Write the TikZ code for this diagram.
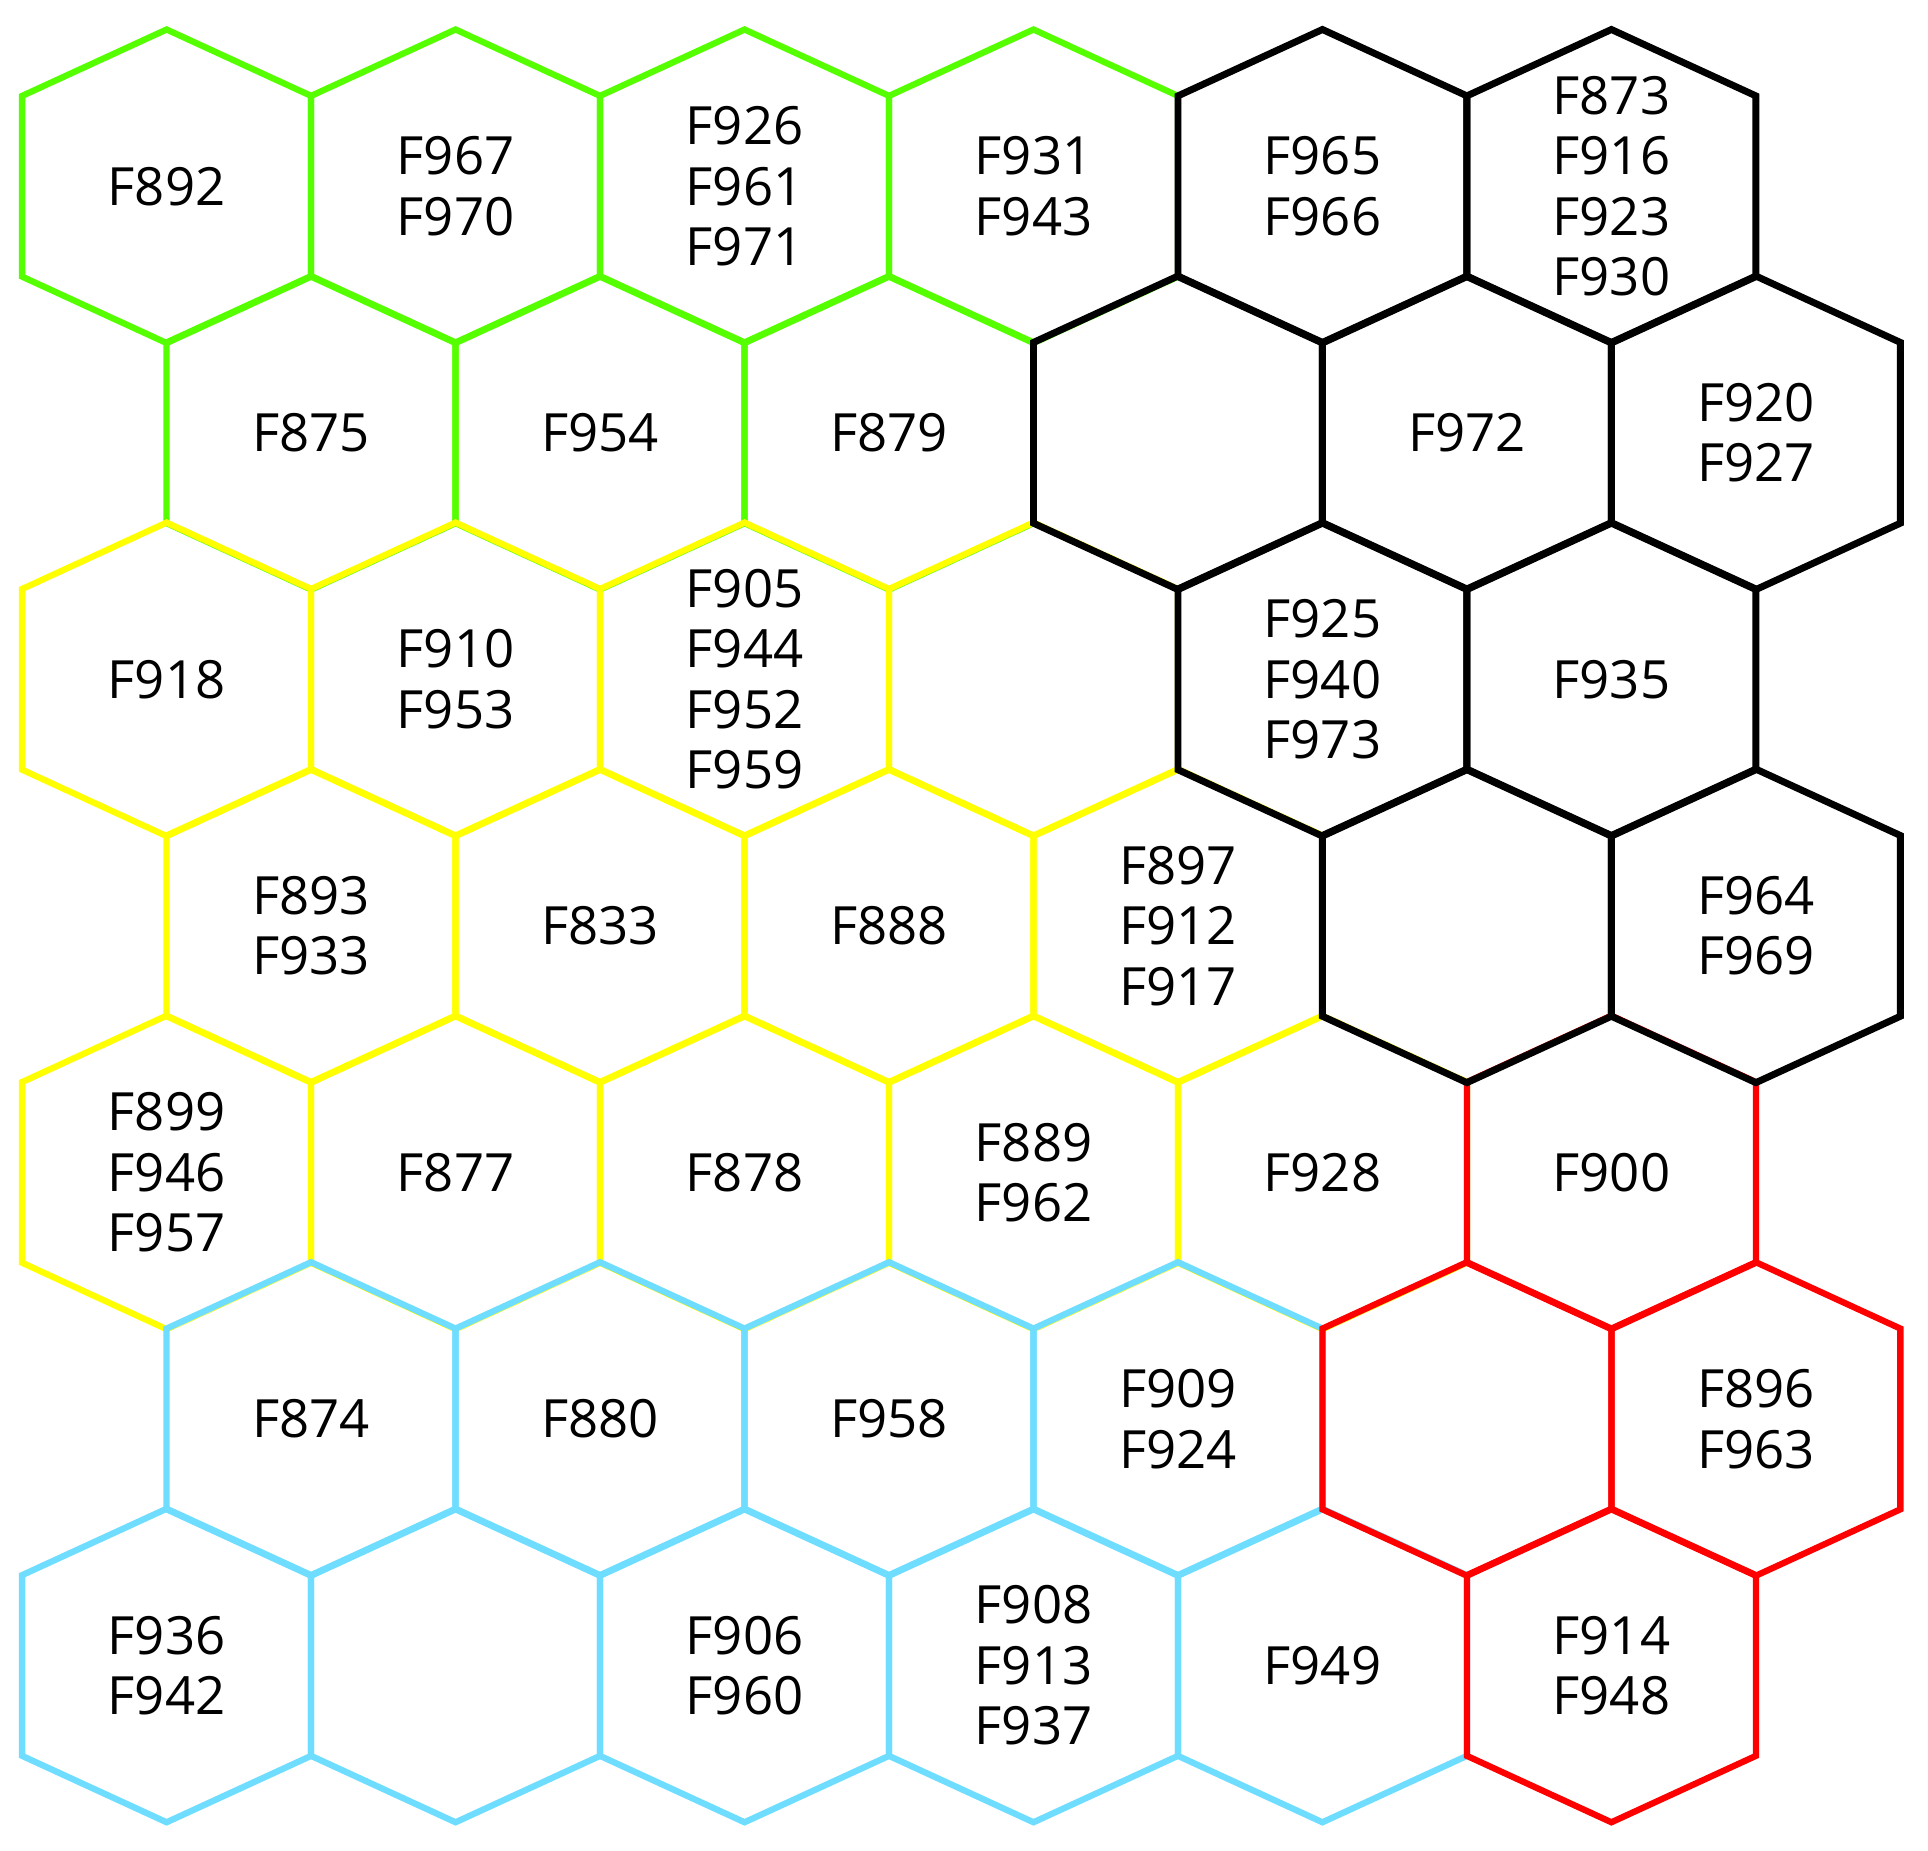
\documentclass[tikz,border=0pt]{standalone}
\usepackage{fontspec}
\setmainfont{Open Sans}
\definecolor{cgreen}{RGB}{85,255,0}
\definecolor{cyellow}{RGB}{255,255,0}
\definecolor{cblue}{RGB}{110,221,255}
\definecolor{cred}{RGB}{255,0,0}
\tikzset{
  hexline/.style={line width=1.45pt, line join=miter},
  blackline/.style={line width=1.6pt, line join=miter},
  lbl/.style={font=\fontsize{12.2}{14}\selectfont, align=center, inner sep=0pt, text=black}
}
\newcommand\hexcell[3]{%
  \pgfmathsetmacro\hx{1.355+2.35*#2+1.175*mod(#1,2)}%
  \pgfmathsetmacro\hy{-1.515-2.005*#1}%
  \draw[#3] (\hx,\hy) ++(0,1.275) -- ++(1.175,-0.54) -- ++(0,-1.47) -- ++(-1.175,-0.54) -- ++(-1.175,0.54) -- ++(0,1.47) -- cycle;
}
\newcommand\hexlabel[3]{%
  \pgfmathsetmacro\hx{1.355+2.35*#2+1.175*mod(#1,2)}%
  \pgfmathsetmacro\hy{-1.515-2.005*#1}%
  \node[lbl] (n-#1-#2) at (\hx,\hy) {#3};
}
\begin{document}
\begin{tikzpicture}
\useasboundingbox (0,0) rectangle (15.68,-15.05);
% green cluster
\foreach \r/\c in {0/0,0/1,0/2,0/3,1/0,1/1,1/2} {\hexcell{\r}{\c}{hexline,draw=cgreen}}
% yellow cluster
\foreach \r/\c in {2/0,2/1,2/2,2/3,3/0,3/1,3/2,3/3,4/0,4/1,4/2,4/3,4/4} {\hexcell{\r}{\c}{hexline,draw=cyellow}}
% blue cluster
\foreach \r/\c in {5/0,5/1,5/2,5/3,6/0,6/1,6/2,6/3,6/4} {\hexcell{\r}{\c}{hexline,draw=cblue}}
% red cluster
\foreach \r/\c in {4/5,5/4,5/5,6/5} {\hexcell{\r}{\c}{hexline,draw=cred}}
% black cluster
\foreach \r/\c in {0/4,0/5,1/3,1/4,1/5,2/4,2/5,3/4,3/5} {\hexcell{\r}{\c}{blackline,draw=black}}
% labels
\hexlabel{0}{0}{F892}
\hexlabel{0}{1}{F967\\F970}
\hexlabel{0}{2}{F926\\F961\\F971}
\hexlabel{0}{3}{F931\\F943}
\hexlabel{0}{4}{F965\\F966}
\hexlabel{0}{5}{F873\\F916\\F923\\F930}
\hexlabel{1}{0}{F875}
\hexlabel{1}{1}{F954}
\hexlabel{1}{2}{F879}
\hexlabel{1}{4}{F972}
\hexlabel{1}{5}{F920\\F927}
\hexlabel{2}{0}{F918}
\hexlabel{2}{1}{F910\\F953}
\hexlabel{2}{2}{F905\\F944\\F952\\F959}
\hexlabel{2}{4}{F925\\F940\\F973}
\hexlabel{2}{5}{F935}
\hexlabel{3}{0}{F893\\F933}
\hexlabel{3}{1}{F833}
\hexlabel{3}{2}{F888}
\hexlabel{3}{3}{F897\\F912\\F917}
\hexlabel{3}{5}{F964\\F969}
\hexlabel{4}{0}{F899\\F946\\F957}
\hexlabel{4}{1}{F877}
\hexlabel{4}{2}{F878}
\hexlabel{4}{3}{F889\\F962}
\hexlabel{4}{4}{F928}
\hexlabel{4}{5}{F900}
\hexlabel{5}{0}{F874}
\hexlabel{5}{1}{F880}
\hexlabel{5}{2}{F958}
\hexlabel{5}{3}{F909\\F924}
\hexlabel{5}{5}{F896\\F963}
\hexlabel{6}{0}{F936\\F942}
\hexlabel{6}{2}{F906\\F960}
\hexlabel{6}{3}{F908\\F913\\F937}
\hexlabel{6}{4}{F949}
\hexlabel{6}{5}{F914\\F948}
\end{tikzpicture}
\end{document}
